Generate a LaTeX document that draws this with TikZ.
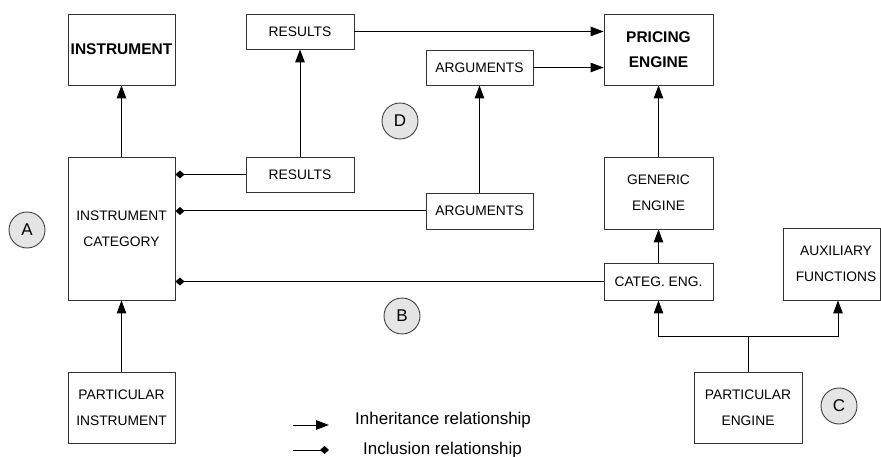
\documentclass[tikz,border=0pt]{standalone}
\usepackage{fontspec}
\setmainfont{Liberation Sans}
\usetikzlibrary{arrows.meta}
\begin{document}
\begin{tikzpicture}[x=1pt,y=-1pt,
  box/.style={draw=black!80,line width=0.9pt,rectangle,inner sep=0pt,align=center,
     font=\fontsize{13.8}{26}\selectfont},
  boldbox/.style={box,font=\fontsize{15.5}{25}\selectfont\bfseries},
  tag/.style={draw=black!75,line width=0.9pt,circle,fill=black!10,minimum size=36pt,inner sep=0pt,
     font=\fontsize{17}{18}\selectfont},
  inh/.style={line width=1pt,-{Triangle[length=13pt,width=9.5pt]}},
  inc/.style={line width=1pt,-{Diamond[length=9pt,width=8pt]}},
  legtext/.style={anchor=west,inner sep=0pt,font=\fontsize{17}{18}\selectfont}
]
\useasboundingbox (0,0) rectangle (881,457);
% nodes
\node[boldbox,minimum width=107pt,minimum height=71pt] (inst) at (121.5,49.5) {INSTRUMENT};
\node[box,minimum width=107pt,minimum height=143pt] (cat) at (121.5,228.5) {INSTRUMENT\\CATEGORY};
\node[box,minimum width=107pt,minimum height=71pt] (pinst) at (121.5,407.5) {PARTICULAR\\INSTRUMENT};
\node[box,minimum width=108pt,minimum height=35pt] (res1) at (300,31.5) {RESULTS};
\node[box,minimum width=108pt,minimum height=35pt] (res2) at (300,174.5) {RESULTS};
\node[box,minimum width=107pt,minimum height=35pt] (arg1) at (479.5,67.5) {ARGUMENTS};
\node[box,minimum width=107pt,minimum height=36pt] (arg2) at (479.5,211) {ARGUMENTS};
\node[boldbox,minimum width=109pt,minimum height=71pt] (pe) at (658.5,49.5) {PRICING\\ENGINE};
\node[box,minimum width=109pt,minimum height=72pt] (ge) at (658.5,193) {GENERIC\\ENGINE};
\node[box,minimum width=109pt,minimum height=37pt] (ce) at (658.5,281.5) {CATEG. ENG.};
\node[box,minimum width=97pt,minimum height=72pt] (aux) at (831.5,264) {\hspace*{9pt}AUXILIARY\\\hspace*{9pt}FUNCTIONS};
\node[box,minimum width=108pt,minimum height=71pt] (peng) at (748,407.5) {PARTICULAR\\ENGINE};
% tags
\node[tag] (A) at (27,230) {A};
\node[tag] (B) at (402,316) {B};
\node[tag] (C) at (839,406) {C};
\node[tag] (D) at (400,121) {D};
% inheritance
\draw[inh] (cat.north) -- (inst.south);
\draw[inh] (pinst.north) -- (cat.south);
\draw[inh] (res2.north) -- (res1.south);
\draw[inh] (arg2.north) -- (arg1.south);
\draw[inh] (res1.east) -- (res1.east -| pe.west);
\draw[inh] (arg1.east) -- (arg1.east -| pe.west);
\draw[inh] (ge.north) -- (pe.south);
\draw[inh] (ce.north) -- (ge.south);
\coordinate (j) at (748,336);
\draw[line width=1pt] (peng.north) -- (j);
\draw[inh] (j) -| (ce.south);
\draw[inh] (j) -| ([xshift=6.5pt]aux.south);
% inclusion
\draw[inc] (res2.west) -- (res2.west -| cat.east);
\draw[inc] (arg2.west) -- (arg2.west -| cat.east);
\draw[inc] (ce.west) -- (ce.west -| cat.east);
% legend
\coordinate (l1a) at (293,425);
\coordinate (l1b) at (329,425);
\coordinate (l2a) at (293,450);
\coordinate (l2b) at (329,450);
\draw[inh] (l1a) -- (l1b);
\draw[inc] (l2a) -- (l2b);
\node[legtext] (t1) at (355,420) {Inheritance relationship};
\node[legtext] (t2) at (363,450) {Inclusion relationship};
\end{tikzpicture}
\end{document}
